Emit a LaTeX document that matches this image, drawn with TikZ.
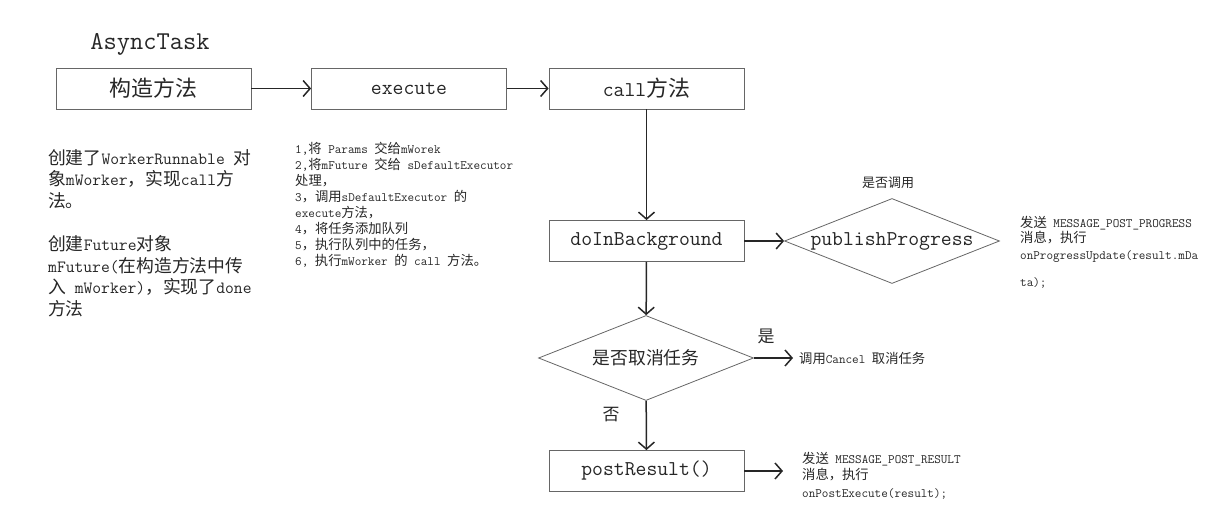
\documentclass[tikz,border=0pt]{standalone}
\usepackage{fontspec}
\renewcommand{\familydefault}{\ttdefault}
\newfontfamily\zhfont[Scale=1.04]{Noto Sans CJK SC}
\usetikzlibrary{arrows.meta,shapes.geometric}
% Chinese characters switch to \zhfont by themselves
\newXeTeXintercharclass\zhclass
\newcount\zhc
\zhc="3000 \loop\XeTeXcharclass\zhc=\zhclass \advance\zhc 1 \ifnum\zhc<"3040 \repeat
\zhc="4E00 \loop\XeTeXcharclass\zhc=\zhclass \advance\zhc 1 \ifnum\zhc<"A000 \repeat
\zhc="FF00 \loop\XeTeXcharclass\zhc=\zhclass \advance\zhc 1 \ifnum\zhc<"FFF0 \repeat
\XeTeXinterchartoks 0 \zhclass={\zhfont}
\XeTeXinterchartoks 4095 \zhclass={\zhfont}
\XeTeXinterchartoks \zhclass 0={\ttfamily}
\XeTeXinterchartoks \zhclass 4095={\ttfamily}
\XeTeXinterchartokenstate=1
\begin{document}
\begin{tikzpicture}[x=1pt,y=-1pt,
	box/.style={draw=black!60,line width=.8pt,minimum width=195pt,minimum height=41pt,inner sep=0pt,text=black!85,font=\ttfamily\fontsize{21.1}{24}\selectfont},
	dmd/.style={draw=black!60,line width=.8pt,diamond,aspect=2.52,minimum width=215pt,minimum height=85pt,inner sep=0pt,text=black!85},
	arr/.style={draw=black!85,line width=1.5pt,-{Straight Barb[length=7pt,width=16pt]}},
	small/.style={text=black!85,inner sep=0pt,font=\ttfamily\fontsize{12.8}{16}\selectfont},
	note/.style={text=black!85,inner sep=0pt,anchor=base west,font=\ttfamily\fontsize{17.1}{21}\selectfont}]
	\useasboundingbox (0,0) rectangle (1214,532);
	\node[anchor=base,text=black!85,font=\ttfamily\fontsize{25.7}{28}\selectfont] (title) at (150,50) {AsyncTask};
	\node[box] (ctor) at (153.5,88.5) {构造方法};
	\node[box] (exec) at (409,88.5) {execute};
	\node[box] (callm) at (646.5,88.5) {call方法};
	\node[box] (bg) at (646.5,241) {doInBackground};
	\node[dmd,font=\ttfamily\fontsize{21.1}{24}\selectfont] (pub) at (892,241) {publishProgress};
	\node[dmd,font=\ttfamily\fontsize{17.1}{20}\selectfont] (cancel) at (646,358) {是否取消任务};
	\node[box] (post) at (646.5,471) {postResult()};
	\node[small,font=\ttfamily\fontsize{12.5}{14}\selectfont] (askpub) at (888,183) {是否调用};
	\node[small,font=\ttfamily\fontsize{16.3}{18}\selectfont] (yes) at (766,336) {是};
	\node[small,font=\ttfamily\fontsize{16.3}{18}\selectfont] (no) at (611,415) {否};
	\node[small,anchor=west,inner xsep=6pt] (canceltxt) at (793,358) {调用Cancel 取消任务};
	\coordinate (postend) at (783,471);
	\draw[arr] (ctor)--(exec);
	\draw[arr] (exec)--(callm);
	\draw[arr] (callm)--(bg);
	\draw[arr] (bg)--(pub);
	\draw[arr] (bg)--(cancel);
	\draw[arr] (cancel)--(canceltxt);
	\draw[arr] (cancel)--(post);
	\draw[arr] (post)--(postend);
	\foreach \i/\t in {0/创建了WorkerRunnable 对,1/象mWorker，实现call方,2/法。,4/创建Future对象,5/mFuture(在构造方法中传,6/入 mWorker)，实现了done,7/方法}
	\node[note] (ctornote\i) at (48,164+21.6*\i) {\t};
	\foreach \i/\t in {0/{1,将 Params 交给mWorek},1/{2,将mFuture 交给 sDefaultExecutor},2/处理，,3/3，调用sDefaultExecutor 的,4/execute方法，,5/4，将任务添加队列,6/5，执行队列中的任务，,7/{6, 执行mWorker 的 call 方法。}}
	\node[small,anchor=base west] (step\i) at (295,153+16*\i) {\t};
	\foreach \y/\t in {227/发送 MESSAGE\_POST\_PROGRESS,242/消息，执行,259/onProgressUpdate(result.mDa,286/ta);}
	\node[small,anchor=base west] (pubnote\y) at (1020,\y) {\t};
	\foreach \y/\t in {463/发送 MESSAGE\_POST\_RESULT,479/消息，执行,497/onPostExecute(result);}
	\node[small,anchor=base west] (postnote\y) at (802,\y) {\t};
\end{tikzpicture}
\end{document}
